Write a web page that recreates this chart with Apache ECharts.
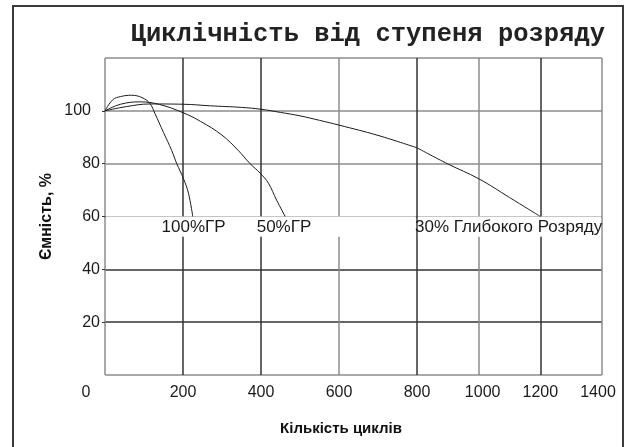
<!DOCTYPE html>
<html>
<head>
<meta charset="utf-8">
<script src="https://cdn.jsdelivr.net/npm/echarts@6/dist/echarts.min.js"></script>
<style>
  html, body { margin: 0; padding: 0; background: #fff; }
  #chart { width: 626px; height: 447px; }
</style>
</head>
<body>
<div id="chart"></div>
<script>
  // [цикли, ємність %]
  const dod100 = [[0, 100], [20, 104.2], [40, 105.4], [68, 105.9], [95, 105], [115, 102.8], [128, 99],
    [150, 91.8], [171, 85], [184, 80], [201, 74.4], [214, 68.8], [225, 60]]
  const dod50 = [[0, 100], [40, 102.5], [90, 103.4], [140, 102.4], [200, 99.3], [245, 96], [300, 90.8],
    [341, 85.1], [372, 80], [398, 76.4], [419, 72.6], [440, 66.2], [462, 60]]
  const dod30 = [[0, 100], [55, 101.6], [115, 102.6], [200, 102.5], [270, 101.9], [350, 101.3], [400, 100.6],
    [450, 99.4], [500, 98.1], [550, 96.4], [600, 94.6], [700, 90.7], [800, 86], [900, 79.9], [1000, 74.3],
    [1100, 67.2], [1200, 60]]
  const names = ['100%ГР', '50%ГР', '30% Глибокого Розряду']
  const xTicks = [0, 200, 400, 600, 800, 1000, 1200, 1400]
  const yTicks = [0, 20, 40, 60, 80, 100, 120]

  const GRAY = '#8c8c8c'
  const DARK = '#333'
  const FONT = 'Liberation Sans'

  const chart = echarts.init(document.getElementById('chart'))

  // підпис кривої біля лінії 60%
  function tag(text, x) {
    return {
      symbol: 'circle',
      symbolSize: 0,
      silent: true,
      data: [{ coord: [x, 56] }],
      label: { show: true, position: 'right', distance: 0, formatter: text, color: '#1a1a1a', fontSize: 17, fontFamily: FONT }
    }
  }
  function band(x0, x1) {
    return { silent: true, itemStyle: { color: '#fff' }, data: [[{ coord: [x0, 60] }, { coord: [x1, 52.3] }]] }
  }
  const curve = { type: 'line', symbol: 'none', smooth: 0.4, lineStyle: { color: '#1a1a1a', width: 1 } }
  const mid = xTicks[4]

  chart.setOption({
    animation: false,
    textStyle: { fontFamily: FONT },
    title: [
      {
        text: 'Циклічність від ступеня розряду', right: 21, top: 22, padding: 0,
        textStyle: { fontFamily: 'Liberation Mono', fontWeight: 'bold', fontSize: 25.5, color: '#222' }
      },
      {
        text: 'Кількість циклів', left: 336, top: 416, textAlign: 'center',
        textStyle: { fontFamily: FONT, fontWeight: 'bold', fontSize: 15, color: '#111' }
      }
    ],
    graphic: [{
      type: 'rect', silent: true,
      shape: { x: 13, y: 6, width: 610, height: 480 },
      style: { fill: 'none', stroke: '#3a3a3a', lineWidth: 2 }
    }],
    grid: [
      { left: 105, top: 58, width: 312, height: 317 },
      { left: 417, top: 58, width: 185, height: 317 }
    ],
    xAxis: [
      {
        gridIndex: 0, type: 'value', min: xTicks[0], max: mid, interval: 200,
        axisLine: { show: false }, axisTick: { show: false },
        axisLabel: {
          margin: 10, fontSize: 16, color: '#1a1a1a',
          formatter: v => v === 0 ? '{z|0}' : String(v),
          rich: { z: { padding: [0, 38, 0, 0], fontSize: 16, fontFamily: FONT, color: '#1a1a1a' } }
        },
        splitLine: { lineStyle: { color: [GRAY, DARK, DARK, GRAY, DARK], width: 1.5 } }
      },
      {
        gridIndex: 1, type: 'value', min: mid, max: xTicks[7], interval: 200,
        axisLine: { show: false }, axisTick: { show: false },
        axisLabel: {
          margin: 10, fontSize: 16, color: '#1a1a1a', showMinLabel: false, showMaxLabel: true,
          formatter: v => v === 1000 ? '{a|1000}' : v === 1400 ? '{b|1400}' : String(v),
          rich: {
            a: { padding: [0, 0, 0, 8], fontSize: 16, fontFamily: FONT, color: '#1a1a1a' },
            b: { padding: [0, 8, 0, 0], fontSize: 16, fontFamily: FONT, color: '#1a1a1a' }
          }
        },
        splitLine: { showMinLine: false, lineStyle: { color: [GRAY, DARK, GRAY], width: 1.5 } }
      }
    ],
    yAxis: [
      {
        gridIndex: 0, type: 'value', min: yTicks[0], max: yTicks[6], interval: 20,
        name: 'Ємність, %', nameLocation: 'middle', nameGap: 50,
        nameTextStyle: { fontFamily: FONT, fontWeight: 'bold', fontSize: 16, color: '#111' },
        axisLine: { show: false },
        axisTick: { show: true, length: 3, lineStyle: { color: DARK } },
        axisLabel: {
          margin: 5, fontSize: 16, color: '#1a1a1a', showMinLabel: false, showMaxLabel: false,
          formatter: v => v === 100 ? '{s|100}' : String(v),
          rich: { s: { padding: [0, 9, 0, 0], fontSize: 16, fontFamily: FONT, color: '#1a1a1a' } }
        },
        splitLine: { lineStyle: { color: [GRAY, DARK, DARK, '#666', GRAY, GRAY, GRAY], width: 1.5 } }
      },
      {
        gridIndex: 1, type: 'value', min: yTicks[0], max: yTicks[6], interval: 20,
        axisLine: { show: false }, axisTick: { show: false }, axisLabel: { show: false },
        splitLine: { lineStyle: { color: [GRAY, DARK, DARK, '#666', GRAY, GRAY, GRAY], width: 1.5 } }
      }
    ],
    series: [
      Object.assign({}, curve, { name: names[0], data: dod100, markArea: band(3, 797), markPoint: tag(names[0], 145) }),
      Object.assign({}, curve, { name: names[1], data: dod50, markPoint: tag(names[1], 389) }),
      Object.assign({}, curve, { name: names[2], data: dod30.filter(p => p[0] <= mid), markPoint: tag(names[2], 795) }),
      Object.assign({}, curve, {
        name: names[2], xAxisIndex: 1, yAxisIndex: 1,
        data: dod30.filter(p => p[0] >= mid), markArea: band(803, 1397)
      })
    ]
  })
</script>
</body>
</html>
